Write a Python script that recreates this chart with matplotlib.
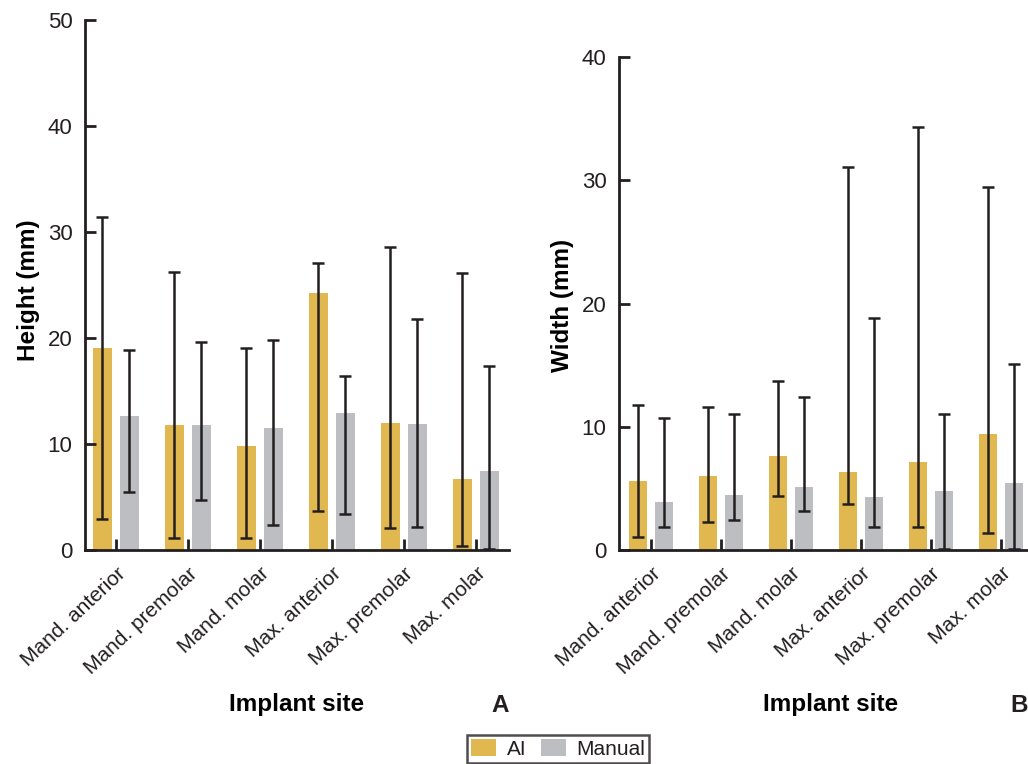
import matplotlib
matplotlib.use("Agg")
import matplotlib.pyplot as plt
import numpy as np

plt.rcParams['font.family'] = ['Liberation Sans', 'DejaVu Sans']
plt.rcParams['text.color'] = '#231F20'

sites = ["Mand. anterior", "Mand. premolar", "Mand. molar",
         "Max. anterior", "Max. premolar", "Max. molar"]

# Height (mm)
height_ai = [19.1, 11.8, 9.8, 24.2, 12.0, 6.7]
height_ai_hi = [31.4, 26.2, 19.05, 27.1, 28.6, 26.1]
height_ai_lo = [2.9, 1.1, 1.1, 3.7, 2.1, 0.4]
height_man = [12.6, 11.8, 11.5, 12.9, 11.9, 7.45]
height_man_hi = [18.9, 19.6, 19.8, 16.4, 21.8, 17.4]
height_man_lo = [5.5, 4.7, 2.4, 3.4, 2.2, 0.1]

# Width (mm)
width_ai = [5.6, 6.0, 7.6, 6.3, 7.15, 9.4]
width_ai_hi = [11.75, 11.6, 13.7, 31.05, 34.3, 29.45]
width_ai_lo = [1.05, 2.25, 4.35, 3.75, 1.85, 1.4]
width_man = [3.9, 4.45, 5.1, 4.3, 4.8, 5.45]
width_man_hi = [10.7, 11.0, 12.4, 18.8, 11.0, 15.1]
width_man_lo = [1.9, 2.4, 3.15, 1.9, 0.05, 0.05]

c_ai = '#E1B84F'
c_man = '#BDBEC2'
ink = '#231F20'

W, H = 1028, 764
fig = plt.figure(figsize=(W / 100, H / 100), dpi=100)

def px_axes(x0, x1, ybot, ytop):
    return fig.add_axes([x0 / W, (H - ybot) / H, (x1 - x0) / W, (ybot - ytop) / H])

axA = px_axes(85, 509, 550, 20)
axB = px_axes(619, 1043, 550, 57)

def draw(ax, ai, ai_hi, ai_lo, man, man_hi, man_lo, ymax, yticks, ylabel, xlim,
         x0px, ybot, ytop, ylab_x, ylab_y):
    x = np.arange(len(sites))
    off, bw = 0.187, 0.265
    ai = np.array(ai); man = np.array(man)
    ax.bar(x - off, ai, bw, color=c_ai, label='AI', zorder=1)
    ax.bar(x + off, man, bw, color=c_man, label='Manual', zorder=1)
    ek = dict(fmt='none', ecolor=ink, elinewidth=1.8, capsize=4, capthick=1.8, zorder=3)
    ax.errorbar(x - off, ai, yerr=[ai - np.array(ai_lo), np.array(ai_hi) - ai], **ek)
    ax.errorbar(x + off, man, yerr=[man - np.array(man_lo), np.array(man_hi) - man], **ek)
    ax.set_ylim(0, ymax)
    ax.set_xlim(*xlim)
    ax.set_yticks(yticks)
    ax.set_xticks(x)
    ax.set_xticklabels(sites, rotation=43, ha='right', rotation_mode='anchor', fontsize=15)
    for s in ['top', 'right']:
        ax.spines[s].set_visible(False)
    for s in ['left', 'bottom']:
        ax.spines[s].set_linewidth(2)
        ax.spines[s].set_color(ink)
    ax.tick_params(axis='y', direction='in', length=8, width=2, color=ink, labelsize=16,
                   pad=9, labelcolor=ink)
    ax.tick_params(axis='x', direction='in', length=8, width=2, color=ink, pad=10,
                   labelcolor=ink)
    hpx = ybot - ytop
    ax.set_ylabel(ylabel, fontsize=17.5, fontweight='bold', va='center')
    ax.yaxis.set_label_coords((ylab_x - x0px) / 424, (ybot - ylab_y) / hpx)
    ax.set_xlabel('Implant site', fontsize=17.5, fontweight='bold', va='center')
    ax.xaxis.set_label_coords(0.5, (ybot - 705) / hpx)
    ax.set_facecolor('none')
    return x

draw(axA, height_ai, height_ai_hi, height_ai_lo, height_man, height_man_hi, height_man_lo,
     50, [0, 10, 20, 30, 40, 50], 'Height (mm)', (-0.43, 5.46), 85, 550, 20, 28, 290)
draw(axB, width_ai, width_ai_hi, width_ai_lo, width_man, width_man_hi, width_man_lo,
     40, [0, 10, 20, 30, 40], 'Width (mm)', (-0.457, 5.6), 619, 550, 57, 562, 305)

fig.text(500 / W, 1 - 705 / H, 'A', fontsize=17.5, fontweight='bold', ha='center', va='center')
fig.text(1019 / W, 1 - 705 / H, 'B', fontsize=17.5, fontweight='bold', ha='center', va='center')

h, l = axA.get_legend_handles_labels()
leg = fig.legend(h, l, loc='center', bbox_to_anchor=(558 / W, 1 - 749 / H), ncol=2,
                 frameon=True, fancybox=False, fontsize=15, handlelength=1.2, handleheight=0.9,
                 borderpad=0.2, columnspacing=0.7, handletextpad=0.5, borderaxespad=0)
leg.get_frame().set_edgecolor(ink)
leg.get_frame().set_linewidth(1.8)

fig.savefig('out.png', dpi=100)
